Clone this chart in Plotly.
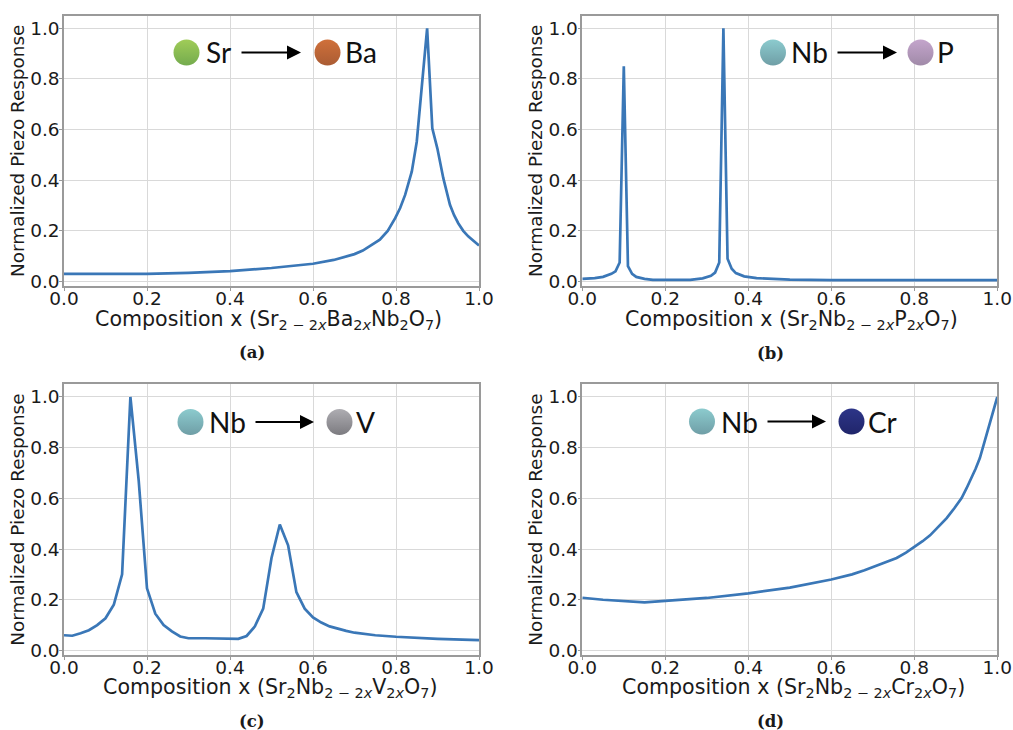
import plotly.graph_objects as go

W, H = 1013, 730
LINE = "#3a77b7"
TEXT = "#1a1a1a"

xa = [0, .1, .2, .3, .4, .5, .6, .65, .7, .72, .74, .761, .78, .798, .81, .822, .838, .85, .875, .8875, .8996, .914, .93, .94, .95, .962, .974, .987, 1]
ya = [.03, .029, .03, .034, .041, .053, .07, .085, .108, .122, .142, .165, .2, .25, .29, .342, .434, .552, 1, .605, .526, .408, .303, .262, .23, .2, .178, .158, .142]
xb = [0, .03, .05, .07, .08, .09, .1, .11, .12, .13, .15, .17, .26, .29, .31, .32, .33, .34, .35, .36, .37, .39, .42, .5, .6, 1]
yb = [.01, .013, .018, .03, .04, .075, .85, .06, .03, .018, .01, .006, .006, .012, .022, .035, .075, 1, .09, .05, .033, .02, .013, .007, .005, .005]
xc = [0, .02, .04, .06, .08, .1, .12, .14, .16, .18, .2, .22, .24, .26, .28, .3, .34, .38, .42, .44, .46, .48, .5, .52, .54, .56, .58, .6, .62, .64, .66, .68, .7, .75, .8, .9, 1]
yc = [.06, .058, .068, .08, .1, .127, .18, .3, 1, .67, .245, .145, .1, .075, .055, .048, .048, .047, .046, .057, .095, .165, .365, .497, .415, .23, .165, .13, .11, .095, .085, .077, .07, .06, .054, .046, .041]
xd = [0, .05, .15, .2, .3, .4, .5, .6, .65, .68, .717, .7575, .78, .8, .82, .838, .858, .878, .896, .914, .926, .938, .948, .958, .966, .974, .986, 1]
yd = [.208, .2, .19, .195, .207, .225, .248, .28, .3, .316, .339, .365, .386, .408, .431, .454, .486, .522, .56, .601, .64, .68, .718, .759, .803, .851, .923, 1]

titles = [
    "Composition x (Sr<sub>2 − 2<i>x</i></sub>Ba<sub>2<i>x</i></sub>Nb<sub>2</sub>O<sub>7</sub>)",
    "Composition x (Sr<sub>2</sub>Nb<sub>2 − 2<i>x</i></sub>P<sub>2<i>x</i></sub>O<sub>7</sub>)",
    "Composition x (Sr<sub>2</sub>Nb<sub>2 − 2<i>x</i></sub>V<sub>2<i>x</i></sub>O<sub>7</sub>)",
    "Composition x (Sr<sub>2</sub>Nb<sub>2 − 2<i>x</i></sub>Cr<sub>2<i>x</i></sub>O<sub>7</sub>)",
]
tags = ["(a)", "(b)", "(c)", "(d)"]
tag_x = [252, 770, 252, 770]
tag_y = [352, 353, 721, 721]
title_cx = [268, 791, 270, 793]
title_y = [320, 320, 688, 688]
series = [(xa, ya), (xb, yb), (xc, yc), (xd, yd)]
boxes = [(64, 479, 15.7, 286), (582.3, 997.3, 15.7, 286), (64, 479, 384.3, 655), (582.3, 997.3, 384.3, 655)]

elem_from = ["Sr", "Nb", "Nb", "Nb"]
elem_to = ["Ba", "P", "V", "Cr"]
col_from = [("#a0cc58", "#74ab4e"), ("#8ccbce", "#6f9ea6"), ("#8ccbce", "#6f9ea6"), ("#8ccbce", "#6f9ea6")]
col_to = [("#d0703a", "#aa5c34"), ("#c4a5cc", "#a08aa8"), ("#aeadb2", "#7c7b80"), ("#2d3588", "#20256a")]
ball1_x = [186.5, 773, 190.5, 702]
ball2_x = [327.5, 920.5, 339.5, 851.5]
ball_y = [52.5, 52.5, 422, 421.5]
label1_x = [218.5, 809.5, 227, 739]
label2_x = [360.5, 945, 365, 882]
arrow_x0 = [240, 836, 254, 766]
arrow_x1 = [301, 897, 314, 826]

fig = go.Figure()
ann = []
for i, ((x, y), (l, r, t, b)) in enumerate(zip(series, boxes)):
    s = "" if i == 0 else str(i + 1)
    ymin = -0.018
    ymax = 1.05
    fig.add_trace(go.Scatter(x=x, y=y, mode="lines", xaxis=f"x{s}", yaxis=f"y{s}",
                             line=dict(color=LINE, width=2.7), showlegend=False, cliponaxis=True))
    pxx = lambda p: (p - l) / (r - l)
    pxy = lambda p: ymin + (b - p) / (b - t) * (ymax - ymin)
    for bx, c in ((ball1_x[i], col_from[i]), (ball2_x[i], col_to[i])):
        fig.add_trace(go.Scatter(x=[pxx(bx)], y=[pxy(ball_y[i])], mode="markers", xaxis=f"x{s}", yaxis=f"y{s}",
                                 marker=dict(size=26, color=c[0], line=dict(width=0),
                                             gradient=dict(type="vertical", color=c[1])),
                                 showlegend=False, hoverinfo="skip"))
    common = dict(showgrid=True, gridcolor="#d9d9d9", gridwidth=1, zeroline=False, showline=True, mirror=True,
                  linecolor="#9a9a9a", linewidth=1.5, ticks="outside", ticklen=3, tickcolor="#9a9a9a",
                  tickfont=dict(family="DejaVu Sans", size=18.5, color=TEXT), automargin=False)
    fig.layout[f"xaxis{s}"] = dict(common, domain=[l / W, r / W], range=[0, 1], anchor=f"y{s}", ticklabelstandoff=-8,
                                   tickvals=[0, .2, .4, .6, .8, 1], ticktext=["0.0", "0.2", "0.4", "0.6", "0.8", "1.0"])
    fig.layout[f"yaxis{s}"] = dict(common, domain=[1 - b / H, 1 - t / H], range=[ymin, ymax], anchor=f"x{s}", ticklabelstandoff=-4,
                                   tickvals=[0, .2, .4, .6, .8, 1], ticktext=["0.0", "0.2", "0.4", "0.6", "0.8", "1.0"],
                                   title=dict(text="Normalized Piezo Response",
                                              font=dict(family="DejaVu Sans", size=18.4, color=TEXT), standoff=1))
    ann.append(dict(x=title_cx[i] / W, y=1 - title_y[i] / H, xref="paper", yref="paper", text=titles[i], showarrow=False,
                    font=dict(family="DejaVu Sans", size=20.6, color=TEXT), xanchor="center", yanchor="middle"))
    ann.append(dict(x=tag_x[i] / W, y=1 - tag_y[i] / H, xref="paper", yref="paper", text=f"<b>{tags[i]}</b>", showarrow=False,
                    font=dict(family="DejaVu Serif", size=16.5, color=TEXT), xanchor="center", yanchor="middle"))
    for lx, txt in ((label1_x[i], elem_from[i]), (label2_x[i], elem_to[i])):
        ann.append(dict(x=lx / W, y=1 - ball_y[i] / H, xref="paper", yref="paper", text=txt, showarrow=False,
                        font=dict(family="Lato", size=28, color="#111111"), xanchor="center", yanchor="middle"))
    ann.append(dict(x=arrow_x1[i] / W, y=1 - ball_y[i] / H, ax=arrow_x0[i] - arrow_x1[i], ay=0,
                    xref="paper", yref="paper", axref="pixel", ayref="pixel", text="", showarrow=True,
                    arrowhead=2, arrowsize=1.4, arrowwidth=2, arrowcolor="#000000"))

fig.update_layout(width=W, height=H, autosize=False, margin=dict(l=0, r=0, t=0, b=0), annotations=ann,
                  plot_bgcolor="white", paper_bgcolor="white", showlegend=False)
fig.write_html("out.html", config=dict(displayModeBar=False),
               post_script="document.body.style.margin='0';document.documentElement.style.overflow='hidden';")
